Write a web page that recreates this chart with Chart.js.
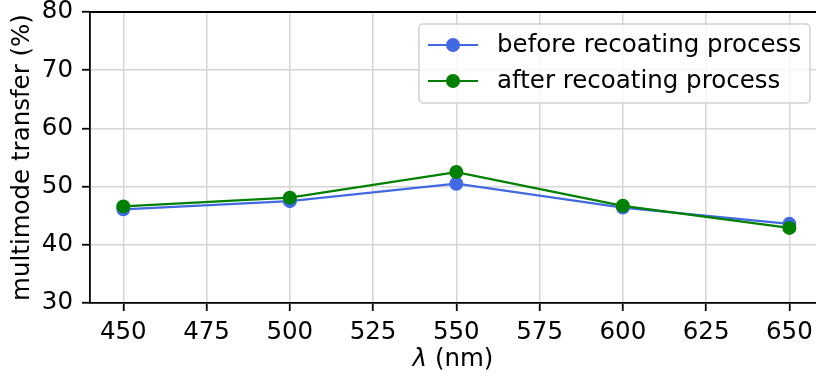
<!DOCTYPE html>
<html>
<head>
<meta charset="utf-8">
<script src="https://cdn.jsdelivr.net/npm/chart.js@4/dist/chart.umd.min.js"></script>
<style>
  body { margin: 0; background: #fff; }
  #wrap { width: 816px; height: 380px; }
</style>
</head>
<body>
<div id="wrap"><canvas id="myChart" width="816" height="380"></canvas></div>
<script>
// data
const wavelengths = [450, 500, 550, 600, 650]
const beforeRecoating = [46.1, 47.5, 50.5, 46.4, 43.6]
const afterRecoating = [46.6, 48.1, 52.5, 46.7, 42.9]
const xTicks = [450, 475, 500, 525, 550, 575, 600, 625, 650]
const yTicks = [30, 40, 50, 60, 70, 80]
const seriesNames = ['before recoating process', 'after recoating process']
const seriesColors = ['#4169e1', '#008000']

const FONT = 'DejaVu Sans'
const SIZE = 24.5

const toPoints = (ys) => wavelengths.map((x, i) => ({ x: x, y: ys[i] }))

// top spine, x-axis label (italic lambda) and legend inside the plot
const extras = {
    id: 'extras',
    afterDraw(chart) {
        const ctx = chart.ctx
        const area = chart.chartArea
        ctx.save()
        ctx.strokeStyle = '#000'
        ctx.lineWidth = 1.8
        ctx.beginPath()
        ctx.moveTo(area.left - 0.9, area.top)
        ctx.lineTo(area.right, area.top)
        ctx.stroke()

        // x label: "λ" italic + " (nm)"
        const lam = 'λ', unit = ' (nm)'
        ctx.fillStyle = '#000'
        ctx.textBaseline = 'middle'
        ctx.textAlign = 'left'
        ctx.font = 'italic ' + SIZE + 'px "' + FONT + '"'
        const wl = ctx.measureText(lam).width
        ctx.font = SIZE + 'px "' + FONT + '"'
        const wu = ctx.measureText(unit).width
        const lx = (area.left + area.right) / 2 - (wl + wu) / 2
        const ly = 360
        ctx.font = 'italic ' + SIZE + 'px "' + FONT + '"'
        ctx.fillText(lam, lx, ly)
        ctx.font = SIZE + 'px "' + FONT + '"'
        ctx.fillText(unit, lx + wl, ly)

        // legend box
        const w = 391, h = 79
        const x0 = area.right - 6 - w
        const y0 = area.top + 12
        ctx.fillStyle = 'rgba(255,255,255,0.8)'
        ctx.strokeStyle = '#d0d0d0'
        ctx.lineWidth = 1.5
        ctx.beginPath()
        ctx.roundRect(x0, y0, w, h, 4)
        ctx.fill()
        ctx.stroke()

        seriesNames.forEach((name, i) => {
            const cy = y0 + 21 + i * 36
            ctx.strokeStyle = seriesColors[i]
            ctx.lineWidth = 2.2
            ctx.beginPath()
            ctx.moveTo(x0 + 9, cy)
            ctx.lineTo(x0 + 59, cy)
            ctx.stroke()
            ctx.fillStyle = seriesColors[i]
            ctx.beginPath()
            ctx.arc(x0 + 34, cy, 7, 0, Math.PI * 2)
            ctx.fill()
            ctx.fillStyle = '#000'
            ctx.fillText(name, x0 + 78, cy + 1)
        })
        ctx.restore()
    }
}

const noPad = (scale) => {
    scale.paddingLeft = 0
    scale.paddingRight = 0
    scale.paddingTop = 0
    scale.paddingBottom = 0
}

const ctx = document.getElementById('myChart').getContext('2d')
const myChart = new Chart(ctx, {
    type: 'line',
    data: {
        datasets: [{
            label: seriesNames[0],
            data: toPoints(beforeRecoating),
            borderColor: seriesColors[0],
            backgroundColor: seriesColors[0],
            borderWidth: 2.2,
            pointRadius: 7,
            pointBorderWidth: 0,
            clip: false,
            order: 1
        }, {
            label: seriesNames[1],
            data: toPoints(afterRecoating),
            borderColor: seriesColors[1],
            backgroundColor: seriesColors[1],
            borderWidth: 2.2,
            pointRadius: 7,
            pointBorderWidth: 0,
            clip: false,
            order: 0
        }]
    },
    options: {
        responsive: false,
        animation: false,
        layout: { autoPadding: false, padding: { left: 0, right: 0, top: 12, bottom: 0 } },
        plugins: {
            legend: { display: false },
            tooltip: { enabled: false }
        },
        scales: {
            x: {
                type: 'linear',
                min: 440,
                max: 658,
                afterBuildTicks: (scale) => { scale.ticks = xTicks.map(v => ({ value: v })) },
                afterFit: (scale) => { scale.height = 77; noPad(scale) },
                ticks: { color: '#000', font: { family: FONT, size: SIZE }, padding: 7, maxRotation: 0 },
                grid: { color: '#d6d6d6', lineWidth: 1.5, tickColor: '#000', tickLength: 8, tickWidth: 1.8 },
                border: { color: '#000', width: 1.8 },
                title: { display: false }
            },
            y: {
                min: 30,
                max: 80,
                afterBuildTicks: (scale) => { scale.ticks = yTicks.map(v => ({ value: v })) },
                afterFit: (scale) => { scale.width = 90; noPad(scale) },
                ticks: { color: '#000', font: { family: FONT, size: SIZE }, padding: 9 },
                grid: { color: '#d6d6d6', lineWidth: 1.5, tickColor: '#000', tickLength: 8, tickWidth: 1.8 },
                border: { color: '#000', width: 1.8 },
                title: { display: true, text: 'multimode transfer (%)', color: '#000', font: { family: FONT, size: SIZE }, padding: { top: 8, bottom: 0 } }
            }
        }
    },
    plugins: [extras]
})
</script>
</body>
</html>
